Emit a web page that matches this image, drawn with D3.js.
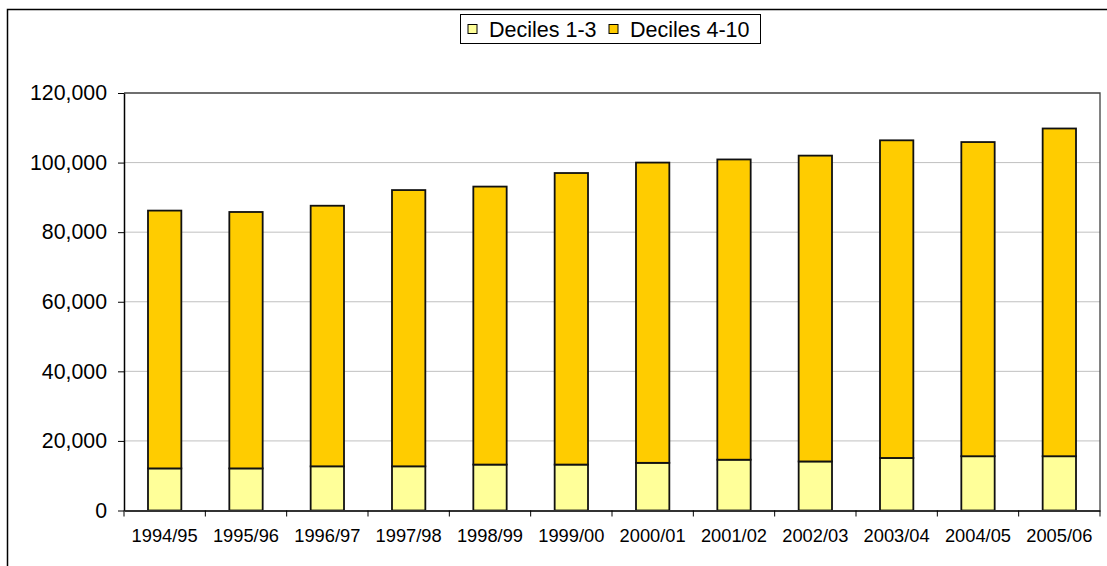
<!DOCTYPE html>
<html>
<head>
<meta charset="utf-8">
<script src="https://cdn.jsdelivr.net/npm/d3@7"></script>
<style>
  html, body { margin: 0; padding: 0; background: #fff; }
  svg { display: block; font-family: "Liberation Sans", Arial, sans-serif; }
</style>
</head>
<body>
<svg id="chart" width="1107" height="566"></svg>
<script>
// Financial years shown along the x axis
const years = ["1994/95", "1995/96", "1996/97", "1997/98", "1998/99", "1999/00",
               "2000/01", "2001/02", "2002/03", "2003/04", "2004/05", "2005/06"];
// Stacked series values
const deciles1to3  = [12100, 12100, 12700, 12700, 13200, 13200, 13700, 14600, 14100, 15100, 15600, 15600];
const deciles4to10 = [74100, 73700, 74900, 79400, 79900, 83800, 86300, 86300, 87900, 91300, 90300, 94200];
const seriesNames = ["Deciles 1-3", "Deciles 4-10"];
const seriesColors = ["#FFFF99", "#FFCC00"];
const yTicks = [0, 20000, 40000, 60000, 80000, 100000, 120000];

const svg = d3.select("#chart");
const plot = { left: 124, right: 1100, top: 93, bottom: 510.5 };

// Outer frame of the chart area
svg.append("rect")
  .attr("x", 7.5).attr("y", 9.5)
  .attr("width", 1120).attr("height", 600)
  .attr("fill", "none").attr("stroke", "#000").attr("stroke-width", 1.5);

const x = d3.scaleBand()
  .domain(years)
  .range([plot.left, plot.right])
  .paddingInner(0.59)
  .paddingOuter(0.295);

const y = d3.scaleLinear()
  .domain([0, 120000])
  .range([plot.bottom, plot.top]);

// Horizontal gridlines
svg.append("g")
  .selectAll("line")
  .data(yTicks.filter(d => d > 0 && d < 120000))
  .join("line")
  .attr("x1", plot.left).attr("x2", plot.right)
  .attr("y1", d => y(d)).attr("y2", d => y(d))
  .attr("stroke", "#c0c0c0").attr("stroke-width", 1);

// Plot area top and right edges
svg.append("path")
  .attr("d", `M${plot.left},${y(120000)}H${plot.right}V${plot.bottom}`)
  .attr("fill", "none").attr("stroke", "#404040").attr("stroke-width", 1.3);

// Stack the two series
const table = years.map((yr, i) => ({ year: yr, low: deciles1to3[i], high: deciles4to10[i] }));
const stacked = d3.stack().keys(["low", "high"])(table);

svg.append("g")
  .selectAll("g")
  .data(stacked)
  .join("g")
  .attr("fill", (d, i) => seriesColors[i])
  .selectAll("rect")
  .data(d => d)
  .join("rect")
  .attr("x", d => x(d.data.year))
  .attr("width", x.bandwidth())
  .attr("y", d => y(d[1]))
  .attr("height", d => y(d[0]) - y(d[1]))
  .attr("stroke", "#111")
  .attr("stroke-width", 1.8);

// Y axis
const yAxis = svg.append("g")
  .attr("transform", `translate(${plot.left},0)`)
  .call(d3.axisLeft(y).tickValues(yTicks).tickSize(6).tickPadding(11)
    .tickFormat(d3.format(",")).tickSizeOuter(0));
yAxis.select(".domain").attr("stroke", "#000").attr("stroke-width", 1.5);
yAxis.selectAll(".tick line").attr("stroke", "#000").attr("stroke-width", 1);
yAxis.selectAll("text").attr("font-size", 21.3).attr("fill", "#000")
  .attr("font-family", "Liberation Sans, Arial, sans-serif");

// X axis with tick marks between categories
const xAxis = svg.append("g")
  .attr("transform", `translate(0,${plot.bottom})`)
  .call(d3.axisBottom(x).tickSize(0).tickPadding(19).tickSizeOuter(0));
xAxis.select(".domain").attr("stroke", "#333").attr("stroke-width", 2);
xAxis.selectAll("text").attr("font-size", 18.3).attr("fill", "#000")
  .attr("font-family", "Liberation Sans, Arial, sans-serif");

const boundaries = years.map(d => x(d) - x.step() * x.paddingInner() / 2).concat([plot.right]);
xAxis.selectAll(".sep")
  .data(boundaries)
  .join("line")
  .attr("class", "sep")
  .attr("x1", d => d).attr("x2", d => d)
  .attr("y1", 0).attr("y2", 6)
  .attr("stroke", "#000").attr("stroke-width", 1);

// Legend
const legend = svg.append("g").attr("transform", "translate(460,14)");
legend.append("rect")
  .attr("x", 0.5).attr("y", 0.5).attr("width", 300).attr("height", 29)
  .attr("fill", "#fff").attr("stroke", "#000").attr("stroke-width", 1);
const legendX = [8, 149];
seriesNames.forEach((name, i) => {
  legend.append("rect")
    .attr("x", legendX[i]).attr("y", 10.5).attr("width", 9).attr("height", 9)
    .attr("fill", seriesColors[i]).attr("stroke", "#000").attr("stroke-width", 1);
  legend.append("text")
    .attr("x", legendX[i] + 21).attr("y", 22.5)
    .attr("font-size", 21.5).attr("fill", "#000")
    .text(name);
});
</script>
</body>
</html>
